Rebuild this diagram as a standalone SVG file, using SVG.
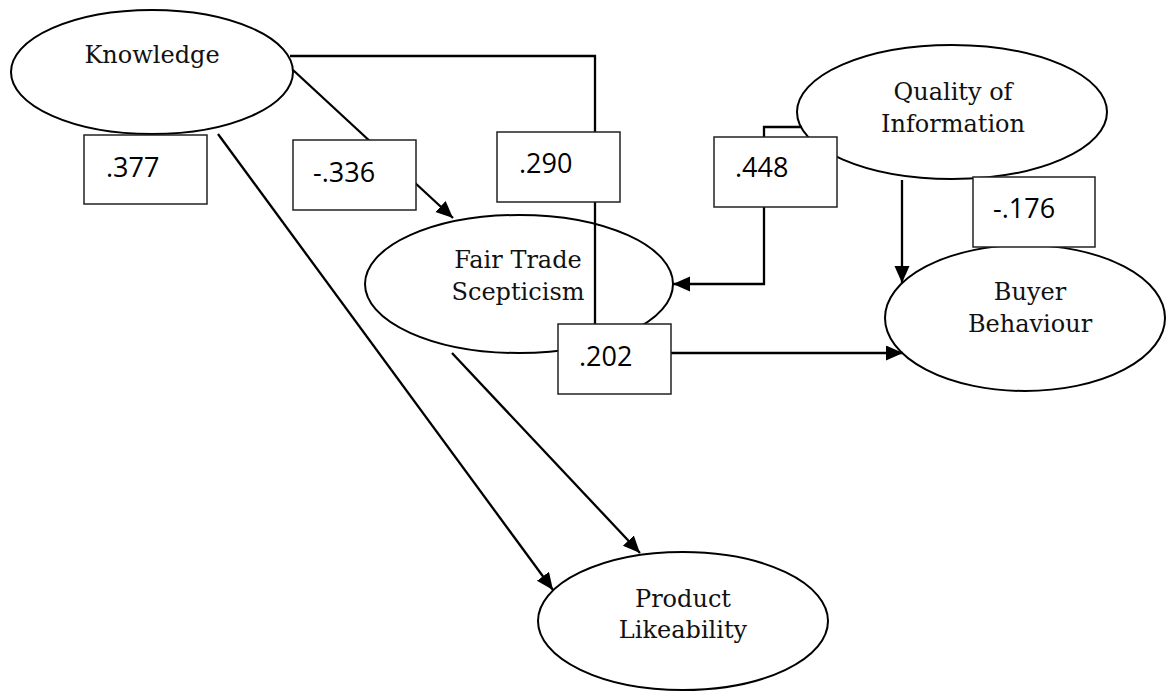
<svg xmlns="http://www.w3.org/2000/svg" width="1166" height="692" viewBox="0 0 1166 692">
<style>
.node ellipse{fill:#fff;stroke:#000;stroke-width:2}
.lbl{font-family:"DejaVu Serif","Liberation Serif",serif;font-size:24px;fill:#111;text-anchor:middle}
.box rect{fill:#fff;stroke:#222;stroke-width:1.5}
.num{font-family:"Open Sans","Liberation Sans",sans-serif;font-size:27px;fill:#000}
.conn path{fill:none;stroke:#000;stroke-width:2.3}
</style>
<defs>
<marker id="arr" markerUnits="userSpaceOnUse" markerWidth="18" markerHeight="16" refX="17" refY="7.5" orient="auto">
<path d="M0,0 L17,7.5 L0,15 z" fill="#000"/>
</marker>
</defs>
<rect width="1166" height="692" fill="#fff"/>
<g id="knowledge" class="node"><ellipse cx="152" cy="72" rx="141" ry="62"/><text class="lbl" x="152" y="63">Knowledge</text></g>
<g id="quality" class="node"><ellipse cx="952" cy="112" rx="155" ry="67"/><text class="lbl" x="953" y="100">Quality of</text><text class="lbl" x="953" y="132">Information</text></g>
<g id="fairtrade" class="node"><ellipse cx="519" cy="284" rx="154" ry="69"/><text class="lbl" x="518" y="268">Fair Trade</text><text class="lbl" x="518" y="300">Scepticism</text></g>
<g id="buyer" class="node"><ellipse cx="1025" cy="318" rx="140" ry="73"/><text class="lbl" x="1030" y="300">Buyer</text><text class="lbl" x="1030" y="332">Behaviour</text></g>
<g id="product" class="node"><ellipse cx="683" cy="621" rx="145" ry="69"/><text class="lbl" x="683" y="607">Product</text><text class="lbl" x="683" y="638">Likeability</text></g>
<g id="connectors" class="conn">
<path d="M293,70 L453,218" marker-end="url(#arr)"/>
<path d="M290,56 H595 V353 H903" marker-end="url(#arr)"/>
<path d="M218,134 L553,590" marker-end="url(#arr)"/>
<path d="M452,353 L640,553" marker-end="url(#arr)"/>
<path d="M802,127 H764 V284 H673" marker-end="url(#arr)"/>
<path d="M902,180 V283" marker-end="url(#arr)"/>
</g>
<g id="labels">
<g id="b377" class="box"><rect x="84" y="135" width="123" height="69"/><text class="num" x="106" y="177">.377</text></g>
<g id="b336" class="box"><rect x="293" y="140" width="123" height="70"/><text class="num" x="313" y="182">-.336</text></g>
<g id="b290" class="box"><rect x="497" y="132" width="123" height="70"/><text class="num" x="519" y="173">.290</text></g>
<g id="b448" class="box"><rect x="714" y="137" width="123" height="70"/><text class="num" x="735" y="177">.448</text></g>
<g id="b176" class="box"><rect x="973" y="177" width="122" height="70"/><text class="num" x="993" y="218">-.176</text></g>
<g id="b202" class="box"><rect x="558" y="324" width="113" height="70"/><text class="num" x="579" y="366">.202</text></g>
</g>
</svg>
